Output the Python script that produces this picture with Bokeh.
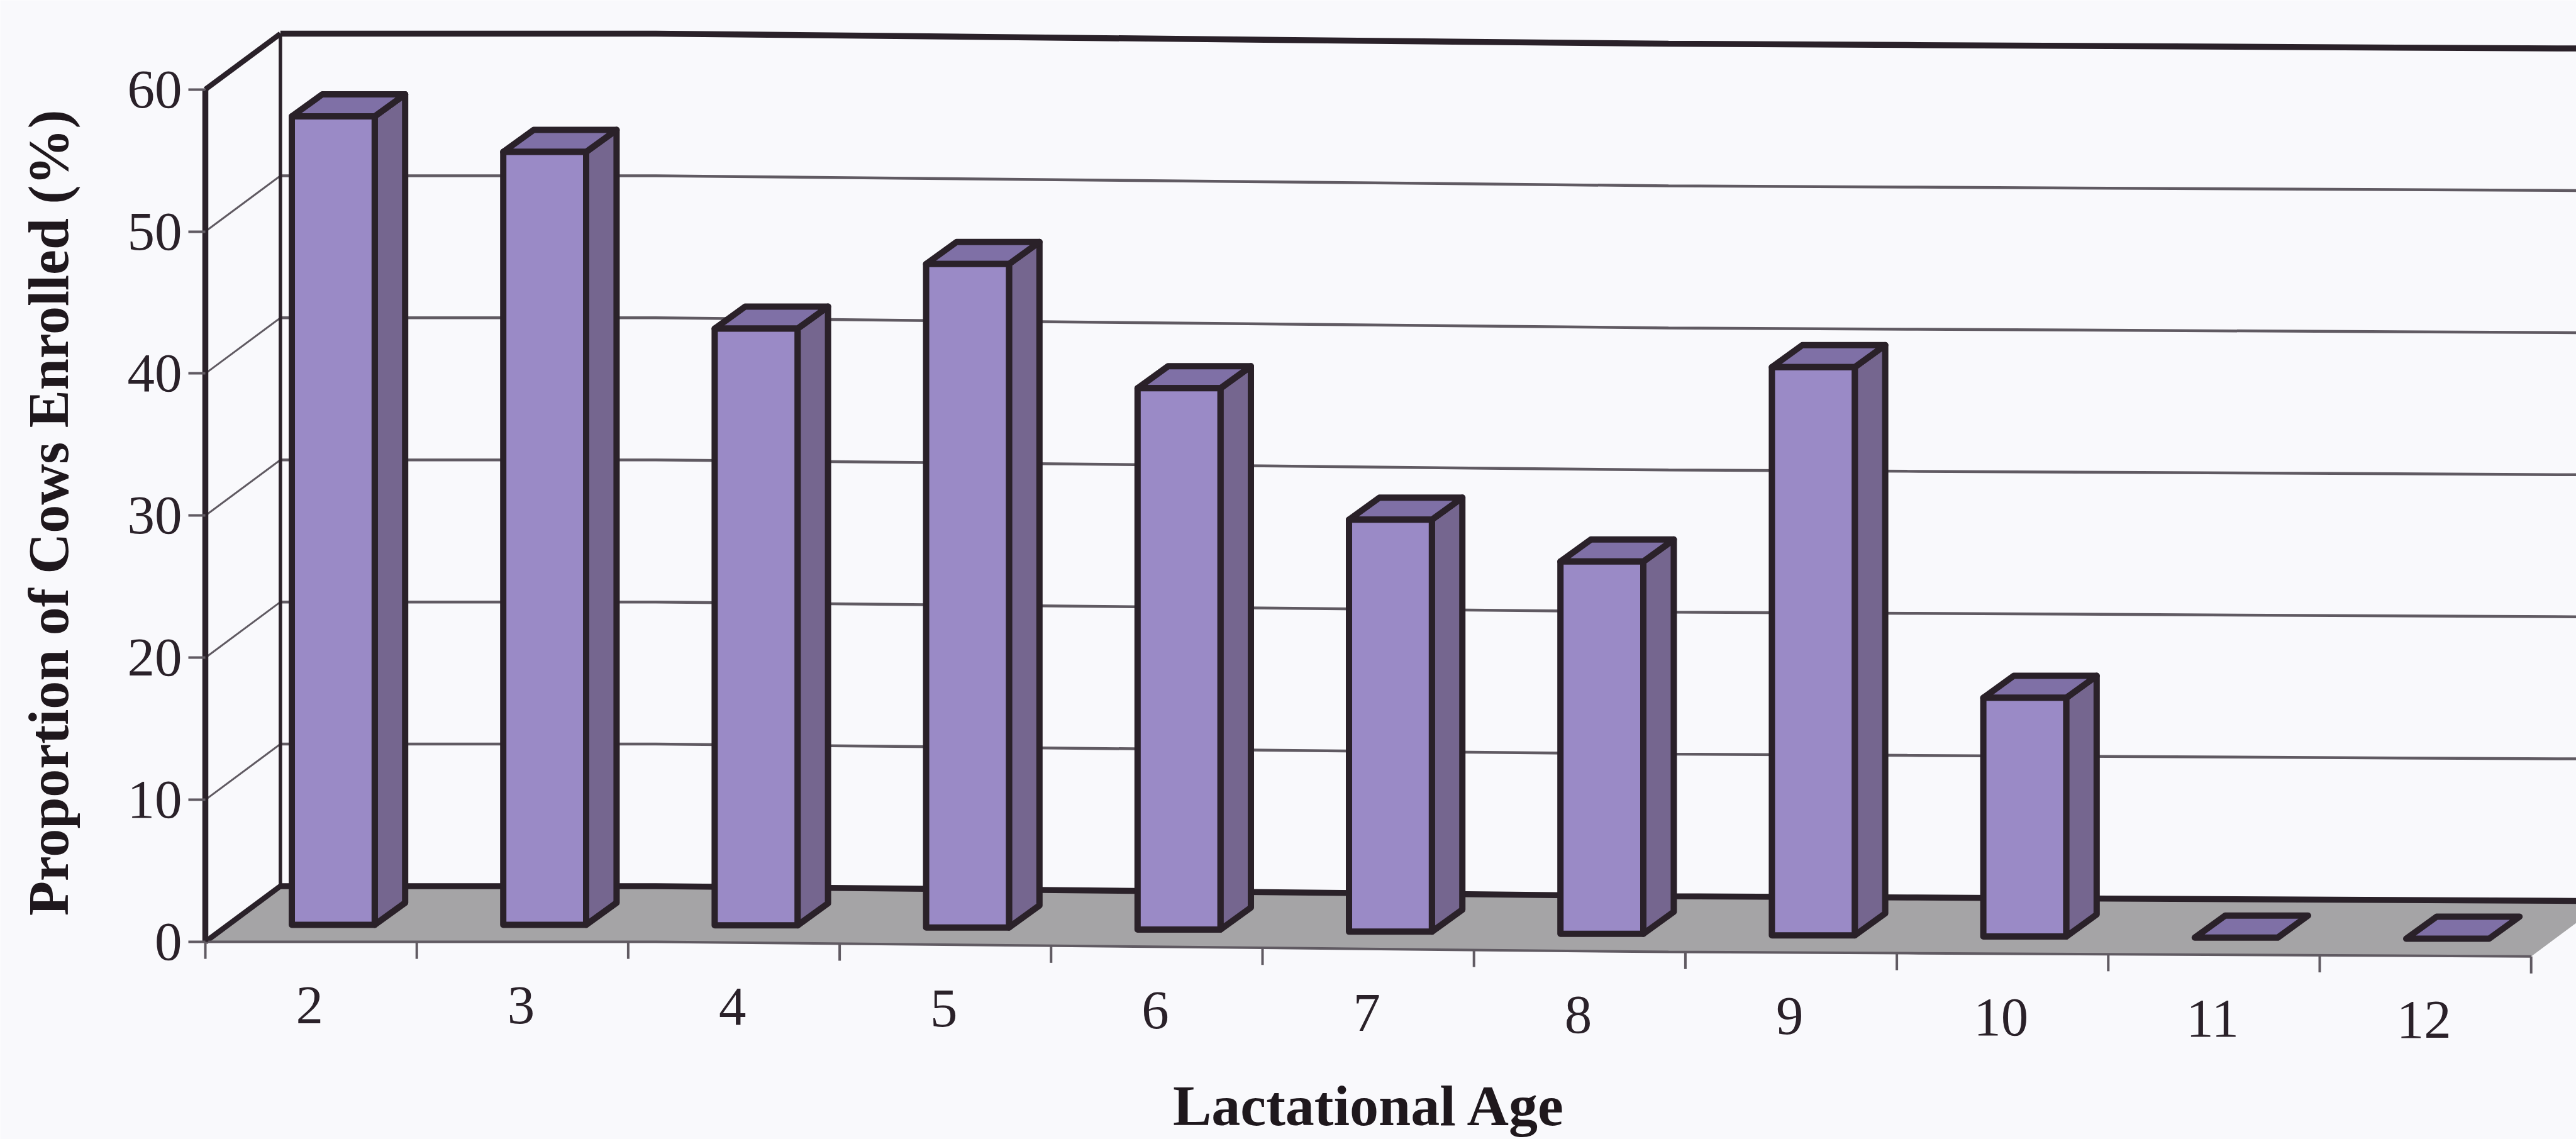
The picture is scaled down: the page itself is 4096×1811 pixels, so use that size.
import numpy as np
from bokeh.core.properties import value
from bokeh.embed import file_html
from bokeh.models import FixedTicker, LinearAxis, Range1d
from bokeh.plotting import figure
from bokeh.resources import INLINE

# Chart values
lactational_age = ["2", "3", "4", "5", "6", "7", "8", "9", "10", "11", "12"]
cows_enrolled = [56.9, 54.4, 42.0, 46.7, 38.1, 29.0, 26.2, 40.0, 16.8, 0, 0]
y_ticks = [0, 10, 20, 30, 40, 50, 60]

# Text
y_title = "Proportion of Cows Enrolled (%)"
x_title = "Lactational Age"

# Palette
PAPER = "#f9f9fc"
INK = "#2a2129"
GRID = "#605a62"
FLOOR = "#a5a4a6"
FRONT = "#9a8ac6"
SIDE = "#75668f"
TOP = "#7f70a6"

# Page geometry, in pixels; the frame covers the whole page
W, H = 4096, 1811
AXIS_PX = 326      # pixel column of the value axis
UNIT_X = 336.2     # pixels per category
UNIT_Y = 22.59     # pixels per percentage point
ZERO_Y = 1497.0    # pixel row of value 0 at the axis

x_min = -AXIS_PX / UNIT_X
x_max = (W - AXIS_PX) / UNIT_X
y_max = ZERO_Y / UNIT_Y
y_min = -(H - ZERO_Y) / UNIT_Y

# 3D projection offsets, in data units
WALL_DX, WALL_DY = 0.355, 3.92
BAR_OFFSET, BAR_WIDTH = 0.409, 0.392
BAR_DX, BAR_DY = 0.144, 1.55
BAR_BASE = 1.2

# The printed page sags slightly towards the right
SAG_X = np.array([0.0, 2.13, 6.92, 8.05, 11.3])
SAG_Y = np.array([0.0, 0.0, 0.71, 0.80, 1.05])


def sag(x):
    return np.interp(x, SAG_X, SAG_Y)


def polyline(x0, x1, y):
    """Horizontal data line that follows the page sag."""
    xs = np.concatenate([[x0], SAG_X[(SAG_X > x0) & (SAG_X < x1)], [x1]])
    return list(xs), list(y - sag(xs))


p = figure(
    width=W, height=H, output_backend="svg", toolbar_location=None,
    x_range=Range1d(x_min, x_max), y_range=Range1d(y_min, y_max),
    x_axis_location=None, y_axis_location=None,
    min_border_left=0, min_border_right=0, min_border_top=0, min_border_bottom=0,
    background_fill_color=PAPER, border_fill_color=PAPER, outline_line_color=None,
)
p.grid.visible = False

# Value axis, pinned to the front edge of the chart
ax = LinearAxis(fixed_location=0, bounds=(0, 60), ticker=FixedTicker(ticks=y_ticks))
ax.level = "annotation"
ax.axis_line_color = INK
ax.axis_line_width = 9.5
ax.major_tick_line_color = GRID
ax.major_tick_line_width = 4
ax.major_tick_out = 27
ax.major_tick_in = 0
ax.minor_tick_line_color = None
ax.major_label_standoff = 10
ax.major_label_text_font = "Liberation Serif"
ax.major_label_text_font_size = "87px"
ax.major_label_text_color = INK
p.add_layout(ax, "left")

# Value axis title
p.text([-0.741], [30.2], text=[y_title], angle=np.pi / 2,
       text_align="center", text_baseline="middle",
       text_font=value("Liberation Serif"), text_font_style="bold", text_font_size="90px",
       text_color="#1f181d")

# Floor
lx, ly = polyline(0, 11.0, 0)
bx, by = polyline(WALL_DX, x_max, WALL_DY)
floor_x = lx + [x_max] + bx[::-1]
floor_y = ly + [ly[-1] + (x_max - 11.0) * WALL_DY / WALL_DX] + by[::-1]
p.patch(floor_x, floor_y, fill_color=FLOOR, line_color=None)

# Back wall gridlines and the diagonal wall lines running to the axis
for tick in y_ticks:
    gx, gy = polyline(WALL_DX, x_max, tick + WALL_DY)
    heavy = tick in (0, 60)
    p.line(gx, gy, line_color=INK if heavy else GRID, line_width=9.5 if heavy else 4.5)
    p.line([0, WALL_DX], [tick, tick + WALL_DY], line_color=INK if heavy else GRID,
           line_width=8.5 if heavy else 3)
p.line([WALL_DX, WALL_DX], [WALL_DY, 60 + WALL_DY], line_color=INK, line_width=5.5)

# Front edge of the floor with its category ticks
p.line(lx, ly, line_color=GRID, line_width=4)
tick_xs = list(range(len(lactational_age) + 1))
p.segment(tick_xs, [-sag(t) for t in tick_xs], tick_xs, [-1.2 - sag(t) for t in tick_xs],
          line_color=GRID, line_width=4)

# Bars, each as side, top and front faces
for i, v in enumerate(cows_enrolled):
    x0 = i + BAR_OFFSET
    x1 = x0 + BAR_WIDTH
    y0 = BAR_BASE - sag(x0)
    y1 = y0 + v
    dx, dy = BAR_DX, BAR_DY
    style = dict(line_color=INK, line_width=10, line_join="round")
    if v > 0:
        p.patch([x1, x1 + dx, x1 + dx, x1], [y0, y0 + dy, y1 + dy, y1], fill_color=SIDE, **style)
    p.patch([x0, x1, x1 + dx, x0 + dx], [y1, y1, y1 + dy, y1 + dy], fill_color=TOP, **style)
    if v > 0:
        p.patch([x0, x1, x1, x0], [y0, y0, y1, y1], fill_color=FRONT, **style)

# Category labels follow the sag of the floor
label_xs = [i + 0.493 for i in range(len(lactational_age))]
label_ys = [-4.49 - sag(x) for x in label_xs]
p.text(label_xs, label_ys, text=lactational_age, text_align="center", text_baseline="middle",
       text_font=value("Liberation Serif"), text_font_size="87px", text_color=INK)

# Category axis title
p.text([5.507], [-11.55], text=[x_title], text_align="center", text_baseline="middle",
       text_font=value("Liberation Serif"), text_font_style="bold", text_font_size="92px",
       text_color="#1f181d")

open("out.html", "w").write(file_html(p, INLINE))
